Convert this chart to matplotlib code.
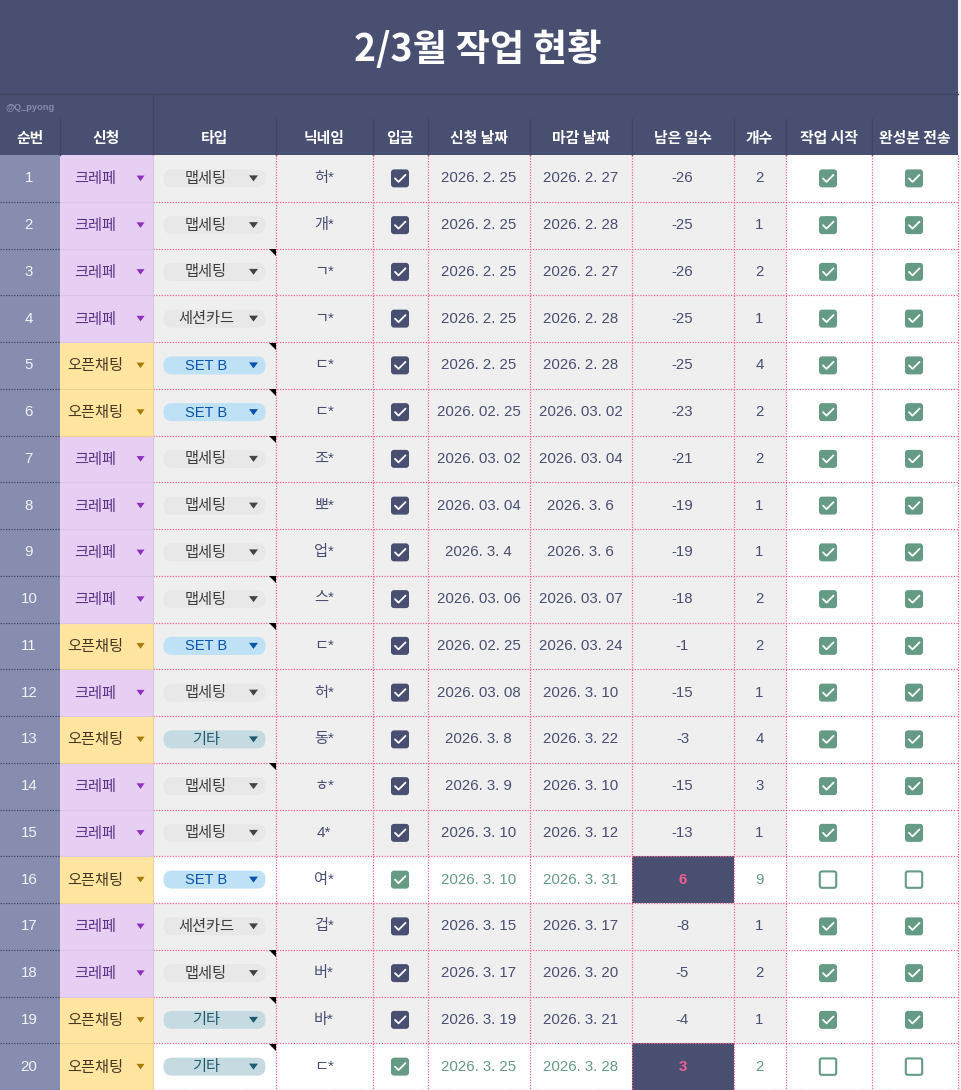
import matplotlib
matplotlib.use('Agg')
import matplotlib.pyplot as plt
from matplotlib.patches import Rectangle, FancyBboxPatch, Polygon

FONTS = ['Liberation Sans', 'Noto Sans CJK KR', 'DejaVu Sans']
KR = ['Noto Sans CJK KR', 'DejaVu Sans']
plt.rcParams['font.family'] = FONTS

title = '2/3월 작업 현황'
credit = '@Q_pyong'
headers = ['순번', '신청', '타입', '닉네임', '입금', '신청 날짜', '마감 날짜', '남은 일수', '개수', '작업 시작', '완성본 전송']

apply_kind = ['크레페', '크레페', '크레페', '크레페', '오픈채팅', '오픈채팅', '크레페', '크레페', '크레페', '크레페',
              '오픈채팅', '크레페', '오픈채팅', '크레페', '크레페', '오픈채팅', '크레페', '크레페', '오픈채팅', '오픈채팅']
work_type = ['맵세팅', '맵세팅', '맵세팅', '세션카드', 'SET B', 'SET B', '맵세팅', '맵세팅', '맵세팅', '맵세팅',
             'SET B', '맵세팅', '기타', '맵세팅', '맵세팅', 'SET B', '세션카드', '맵세팅', '기타', '기타']
nick = ['허*', '개*', 'ㄱ*', 'ㄱ*', 'ㄷ*', 'ㄷ*', '조*', '뽀*', '업*', '스*',
        'ㄷ*', '허*', '동*', 'ㅎ*', '4*', '여*', '겁*', '버*', '바*', 'ㄷ*']
start = ['2026. 2. 25', '2026. 2. 25', '2026. 2. 25', '2026. 2. 25', '2026. 2. 25', '2026. 02. 25', '2026. 03. 02',
         '2026. 03. 04', '2026. 3. 4', '2026. 03. 06', '2026. 02. 25', '2026. 03. 08', '2026. 3. 8', '2026. 3. 9',
         '2026. 3. 10', '2026. 3. 10', '2026. 3. 15', '2026. 3. 17', '2026. 3. 19', '2026. 3. 25']
due = ['2026. 2. 27', '2026. 2. 28', '2026. 2. 27', '2026. 2. 28', '2026. 2. 28', '2026. 03. 02', '2026. 03. 04',
       '2026. 3. 6', '2026. 3. 6', '2026. 03. 07', '2026. 03. 24', '2026. 3. 10', '2026. 3. 22', '2026. 3. 10',
       '2026. 3. 12', '2026. 3. 31', '2026. 3. 17', '2026. 3. 20', '2026. 3. 21', '2026. 3. 28']
days_left = [-26, -25, -26, -25, -25, -23, -21, -19, -19, -18, -1, -15, -3, -15, -13, 6, -8, -5, -4, 3]
count = [2, 1, 2, 1, 4, 2, 2, 1, 1, 2, 2, 1, 4, 3, 1, 9, 1, 2, 1, 2]
noted = [3, 5, 6, 7, 10, 11, 14, 18, 19, 20]
open_rows = [16, 20]

col_x = [0, 59.7, 152.7, 275.5, 372.5, 427.5, 529.5, 631.5, 733.5, 785.5, 871.5, 957.5]
row_top = 155
row_h = 46.75

NAVY = '#484f70'
PINK = '#f4608f'
GREEN = '#659b85'
GREY = '#efefef'
DOT = (0, (1, 1.2))

kind_style = {'크레페': ('#e6cff2', '#5a3286', '#9030c0', '#dcc6e6'),
              '오픈채팅': ('#ffe5a0', '#473821', '#a87a00', '#eed398')}
pill_style = {'맵세팅': ('#e8e8e8', '#3d3d3d', '#444444'),
              '세션카드': ('#e8e8e8', '#3d3d3d', '#444444'),
              'SET B': ('#bfe1f6', '#0a53a8', '#0a53a8'),
              '기타': ('#c6dbe1', '#215a6c', '#215a6c')}

fig = plt.figure(figsize=(9.61, 10.9), dpi=100, facecolor='#f6f6f6')
ax = fig.add_axes([0, 0, 1, 1])
ax.set_xlim(0, 961)
ax.set_ylim(1090, 0)
ax.axis('off')


def rect(x0, y0, x1, y1, color, z=1):
    ax.add_patch(Rectangle((x0, y0), x1 - x0, y1 - y0, facecolor=color, edgecolor='none', zorder=z))


def arrow(cx, cy, color, w=4, h=2.8):
    ax.add_patch(Polygon([(cx - w, cy - h), (cx + w, cy - h), (cx, cy + h)], closed=True,
                         facecolor=color, edgecolor='none', zorder=5))


def checkbox(cx, cy, checked, color):
    s = 18
    if checked:
        ax.add_patch(FancyBboxPatch((cx - s / 2 + 2, cy - s / 2 + 2), s - 4, s - 4, boxstyle='round,pad=2,rounding_size=3',
                                    facecolor=color, edgecolor='none', zorder=4))
        ax.plot([cx - 5, cx - 1.5, cx + 5.5], [cy, cy + 3.5, cy - 3.5], color='white', lw=1.3, zorder=5,
                solid_capstyle='round', solid_joinstyle='round')
    else:
        ax.add_patch(FancyBboxPatch((cx - s / 2 + 2, cy - s / 2 + 2), s - 4, s - 4, boxstyle='round,pad=1.2,rounding_size=2',
                                    facecolor='white', edgecolor=color, lw=1.5, zorder=4))


# title and header bands
rect(0, 0, col_x[-1], row_top, NAVY)
ax.plot([0, col_x[-1]], [94, 94], color='#3f4664', lw=1, zorder=2)
ax.plot([col_x[2]] * 2, [94, 119], color='#3f4664', lw=1, zorder=2)
ax.text(478, 49, title, ha='center', va='center', color='white', fontsize=26.9, fontweight='bold', family=KR)
ax.text(5, 107, credit, ha='left', va='center', color='#858cb0', fontsize=6.7, fontweight='bold')
for j, h in enumerate(headers):
    ax.text((col_x[j] + col_x[j + 1]) / 2, 138.5, h, ha='center', va='center', color='white', fontsize=10.7,
            fontweight='bold', family=KR)
    if j > 0:
        ax.plot([col_x[j]] * 2, [119, row_top], color='#3f4664', lw=1, zorder=2)

# body cells
for i in range(20):
    no = i + 1
    top = row_top + i * row_h
    bot = top + row_h
    mid = top + row_h / 2
    is_open = no in open_rows
    fg = GREEN if is_open else NAVY
    bg = 'white' if is_open else GREY

    rect(0, top, col_x[1], bot, '#878dae')
    rect(col_x[2], top, col_x[9], bot, bg)
    rect(col_x[9], top, col_x[11], bot, 'white')

    fill, text_c, arrow_c, edge = kind_style[apply_kind[i]]
    rect(col_x[1], top, col_x[2], bot, fill)
    ax.plot([col_x[1], col_x[2]], [bot, bot], color=edge, lw=0.8, zorder=3)
    ax.plot([col_x[2]] * 2, [top, bot], color=edge, lw=0.8, zorder=3)

    ax.text(col_x[1] / 2 - 1, mid, str(no), ha='center', va='center', color='#f2f3f7', fontsize=10.8)
    ax.text(95, mid + 0.5, apply_kind[i], ha='center', va='center', color=text_c, fontsize=11, family=KR)
    arrow(140.5, mid, arrow_c)

    p_fill, p_text, p_arrow = pill_style[work_type[i]]
    ax.add_patch(FancyBboxPatch((172, mid - 0.5), 85, 1, boxstyle='round,pad=8.5,rounding_size=8.5',
                                facecolor=p_fill, edgecolor='none', zorder=3))
    p_size = 10.5 if work_type[i] == 'SET B' else 11
    ax.text(206, mid + 0.5, work_type[i], ha='center', va='center', color=p_text, fontsize=p_size, zorder=5)
    arrow(253.5, mid, p_arrow, w=4.5, h=3)

    ax.text((col_x[3] + col_x[4]) / 2, mid, nick[i], ha='center', va='center', color=NAVY, fontsize=11)
    checkbox(400, mid, True, GREEN if is_open else NAVY)
    ax.text((col_x[5] + col_x[6]) / 2, mid, start[i], ha='center', va='center', color=fg, fontsize=10.8)
    ax.text((col_x[6] + col_x[7]) / 2, mid, due[i], ha='center', va='center', color=fg, fontsize=10.8)

    if is_open:
        rect(col_x[7], top, col_x[8], bot, NAVY, z=1.5)
        ax.text((col_x[7] + col_x[8]) / 2, mid, str(days_left[i]), ha='center', va='center', color=PINK,
                fontsize=10.8, fontweight='bold')
    else:
        ax.text((col_x[7] + col_x[8]) / 2, mid, str(days_left[i]), ha='center', va='center', color=NAVY, fontsize=10.8)
    ax.text((col_x[8] + col_x[9]) / 2, mid, str(count[i]), ha='center', va='center', color=fg, fontsize=10.8)

    checkbox(828, mid, not is_open, GREEN)
    checkbox(914, mid, not is_open, GREEN)

    # row dividers
    ax.plot([0, col_x[1]], [bot, bot], color='#3f4664', lw=0.9, ls=DOT, zorder=3)
    ax.plot([col_x[2], col_x[11]], [bot, bot], color=PINK, lw=0.9, ls=DOT, zorder=3)

    if no in noted:
        ax.add_patch(Polygon([(col_x[3] - 7, top + 0.5), (col_x[3], top + 0.5), (col_x[3], top + 7.5)], closed=True,
                             facecolor='black', edgecolor='none', zorder=6))

# column dividers
for x in col_x[3:]:
    ax.plot([x, x], [row_top, 1090], color=PINK, lw=0.9, ls=DOT, zorder=3)

fig.savefig('out.png', dpi=100, facecolor=fig.get_facecolor())
